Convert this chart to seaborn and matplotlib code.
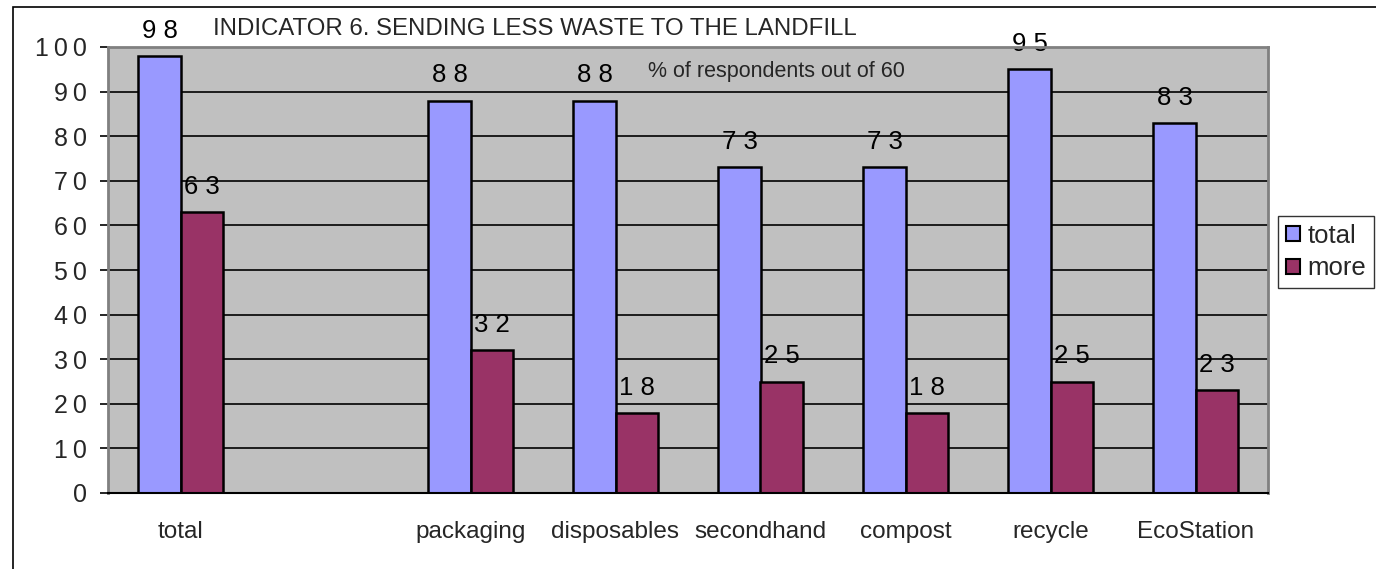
import numpy as np
import pandas as pd
import matplotlib
matplotlib.use("Agg")
import matplotlib.pyplot as plt
from matplotlib.patches import Rectangle, Patch
import seaborn as sns

# Survey results: share of respondents (%) out of 60
categories = ["total", "", "packaging", "disposables", "secondhand",
              "compost", "recycle", "EcoStation"]
total_vals = [98, np.nan, 88, 88, 73, 73, 95, 83]
more_vals = [63, np.nan, 32, 18, 25, 18, 25, 23]
series_names = ["total", "more"]
y_ticks = [0, 10, 20, 30, 40, 50, 60, 70, 80, 90, 100]

title_text = "INDICATOR 6. SENDING LESS WASTE TO THE LANDFILL"
subtitle_text = "% of respondents out of 60"

df = pd.DataFrame({
    "category": categories * 2,
    "series": [series_names[0]] * len(categories) + [series_names[1]] * len(categories),
    "value": total_vals + more_vals,
}).dropna()

sns.set_theme(style="white")
plt.rcParams["font.family"] = ["Liberation Sans", "DejaVu Sans"]

colors = {"total": "#9999FF", "more": "#993366"}

fig = plt.figure(figsize=(13.76, 5.69), dpi=100)
ax = fig.add_axes([108 / 1376, 1 - 493 / 569, 1160 / 1376, 446 / 569])
ax.set_facecolor("#C0C0C0")

sns.barplot(data=df, x="category", y="value", hue="series", order=categories,
            hue_order=series_names, palette=colors, width=0.58, gap=0,
            edgecolor="black", linewidth=1.8, saturation=1, ax=ax, legend=False,
            errorbar=None, zorder=3)


def spaced(v, sep="\u2009"):
    # digits drawn with a gap between them
    return sep.join(str(int(round(v))))


for cont in ax.containers:
    ax.bar_label(cont, labels=[spaced(b.get_height(), " ") if not np.isnan(b.get_height()) else ""
                               for b in cont], padding=9.5, fontsize=18.5, color="black")

ax.set_ylim(0, 100)
ax.set_xlim(-0.5, len(categories) - 0.5)
ax.set_yticks(y_ticks)
ax.set_yticklabels([spaced(t) for t in y_ticks], fontsize=18)
ax.yaxis.grid(True, color="black", linewidth=1.2, zorder=0)
ax.set_axisbelow(True)

ax.set_xticks(range(len(categories)))
ax.set_xticklabels(categories, fontsize=17.5)
ax.set_xticks(np.arange(-0.5, len(categories)), minor=True)
ax.tick_params(axis="x", which="major", length=0, pad=20)
ax.tick_params(axis="x", which="minor", length=7, width=1.2, color="black", direction="out")
ax.tick_params(axis="y", length=6, width=1.2, color="black", direction="out", left=True, pad=9)
ax.set_xlabel("")
ax.set_ylabel("")

for side in ["top", "right", "left"]:
    ax.spines[side].set_color("#808080")
    ax.spines[side].set_linewidth(2)
ax.spines["bottom"].set_color("black")
ax.spines["bottom"].set_linewidth(1.5)
for sp in ax.spines.values():
    sp.set_zorder(5)

fig.text(535 / 1376, 1 - 29 / 569, title_text, ha="center", va="center", fontsize=17.3)
ax.text(776 / 1376, 1 - 71 / 569, subtitle_text, transform=fig.transFigure,
        ha="center", va="center", fontsize=15.5, zorder=6)

handles = [Patch(facecolor=colors[s], edgecolor="black", linewidth=1.5, label=s)
           for s in series_names]
fig.legend(handles=handles, loc="center left", bbox_to_anchor=(1278 / 1376, 1 - 252 / 569),
           fontsize=18.5, frameon=True, fancybox=False, edgecolor="black",
           handlelength=0.55, handleheight=0.55, handletextpad=0.3, borderpad=0.3,
           labelspacing=0.35, borderaxespad=0)

# outer chart frame
fig.patches.append(Rectangle((13 / 1376, -0.1), 1.2, 1 - 7 / 569 + 0.1,
                             transform=fig.transFigure, fill=False,
                             edgecolor="black", linewidth=1.2))

fig.savefig("out.png", dpi=100)
